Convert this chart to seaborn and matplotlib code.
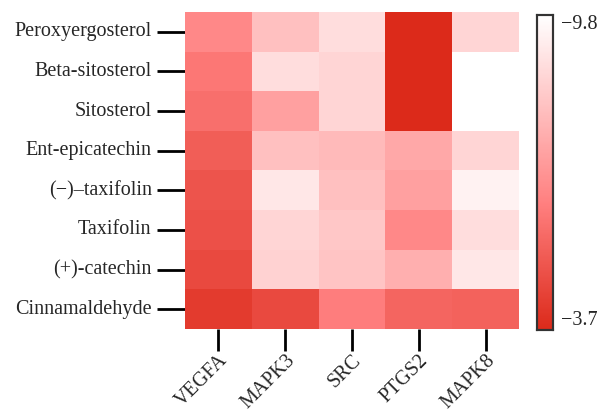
import numpy as np
import pandas as pd
import matplotlib
matplotlib.use("Agg")
import matplotlib.pyplot as plt
import seaborn as sns
from matplotlib.colors import LinearSegmentedColormap

compounds = ['Peroxyergosterol', 'Beta-sitosterol', 'Sitosterol', 'Ent-epicatechin',
             '(\u2212)\u2013taxifolin', 'Taxifolin', '(+)-catechin', 'Cinnamaldehyde']
targets = ['VEGFA', 'MAPK3', 'SRC', 'PTGS2', 'MAPK8']

# binding energies per target (NaN = not docked)
vegfa = [-6.4, -5.9, -5.7, -5.2, -4.9, -4.8, -4.6, -4.2]
mapk3 = [-8.0, -8.8, -7.1, -8.0, -9.1, -8.6, -8.5, -4.6]
src = [-8.8, -8.6, -8.6, -7.8, -8.0, -8.2, -8.1, -6.1]
ptgs2 = [-3.7, -3.7, -3.7, -7.3, -7.1, -6.4, -7.5, -5.4]
mapk8 = [-8.6, np.nan, np.nan, -8.6, -9.4, -8.8, -9.1, -5.3]

df = pd.DataFrame({'VEGFA': vegfa, 'MAPK3': mapk3, 'SRC': src,
                   'PTGS2': ptgs2, 'MAPK8': mapk8}, index=compounds)[targets]

cmap = LinearSegmentedColormap.from_list(
    'wr', [(0, '#ffffff'), (0.6, '#ff7f7f'), (1, '#dc2a1a')])

sns.set_style('white')
plt.rcParams['font.family'] = ['Liberation Serif', 'DejaVu Serif']

fig = plt.figure(figsize=(6.06, 4.15), dpi=100)
ax = fig.add_axes([185 / 606, 1 - 329 / 415, 334 / 606, 317 / 415])
cax = fig.add_axes([537 / 606, 1 - 330 / 415, 16 / 606, 315 / 415])

sns.heatmap(df, ax=ax, cbar_ax=cax, cmap=cmap, vmin=-9.8, vmax=-3.7,
            cbar_kws={'ticks': [-9.8, -3.7]})

ax.tick_params(axis='both', width=2, color='black', labelsize=14.5)
ax.tick_params(axis='x', bottom=True, length=16, pad=0)
ax.tick_params(axis='y', left=True, length=20, pad=4)
plt.setp(ax.get_xticklabels(), rotation=45, ha='right', rotation_mode='anchor')
plt.setp(ax.get_yticklabels(), rotation=0)
ax.set_xlabel('')
ax.set_ylabel('')

cax.invert_yaxis()
cax.set_yticklabels(['\u22129.8', '\u22123.7'])
cax.tick_params(length=0, labelsize=14.5, pad=6)
labs = cax.get_yticklabels()
labs[0].set_va('top')
labs[1].set_va('bottom')
for s in cax.spines.values():
    s.set_visible(True)
    s.set_color('#333333')
    s.set_linewidth(1.5)

fig.savefig('out.png', dpi=100)
